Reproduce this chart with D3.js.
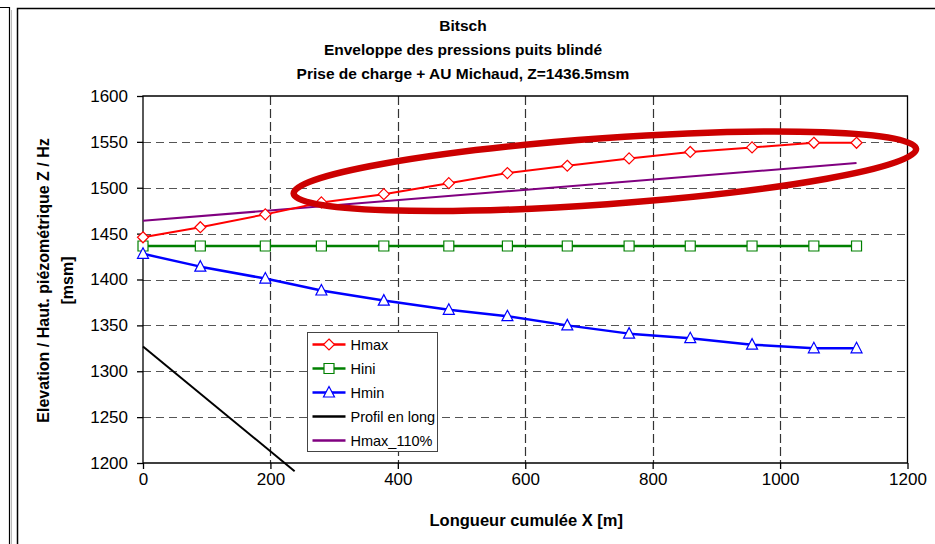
<!DOCTYPE html>
<html>
<head>
<meta charset="utf-8">
<script src="https://cdn.jsdelivr.net/npm/d3@7"></script>
<style>
  body { margin: 0; background: #fff; }
  svg { display: block; font-family: "Liberation Sans", Arial, sans-serif; }
</style>
</head>
<body>
<svg id="chart" width="935" height="544"></svg>
<script>
// Data
const xPos = [0, 90, 192, 280, 378, 480, 572, 666, 763, 859, 956, 1053, 1120];
const hmax = [1446, 1457, 1471, 1484, 1493, 1505, 1516, 1524, 1532, 1539, 1544, 1549, 1549];
const hini = [1436.5, 1436.5, 1436.5, 1436.5, 1436.5, 1436.5, 1436.5, 1436.5, 1436.5, 1436.5, 1436.5, 1436.5, 1436.5];
const hmin = [1428, 1414, 1401, 1388, 1377, 1367, 1360, 1350, 1341, 1336, 1329, 1325, 1325];
const profilX = [0, 238];
const profilY = [1327, 1191];
const h110X = [0, 1120];
const h110Y = [1464, 1527];

const xTicks = [0, 200, 400, 600, 800, 1000, 1200];
const yTicks = [1200, 1250, 1300, 1350, 1400, 1450, 1500, 1550, 1600];
const titleLines = ["Bitsch", "Enveloppe des pressions puits blindé", "Prise de charge + AU Michaud, Z=1436.5msm"];

// highlighted zone (red ellipse), centre in data units
const zoneCentre = [725, 1518];

const width = 935, height = 544;
const margin = { top: 96, right: 27.5, bottom: 81, left: 143 };

const svg = d3.select("#chart");

// outer frames
svg.append("path").attr("d", "M0,7.5H9.5V544").attr("fill", "none").attr("stroke", "#000").attr("stroke-width", 1.2);
svg.append("path").attr("d", "M11.5,10V544").attr("stroke", "#bbb").attr("stroke-width", 1);
svg.append("path").attr("d", "M17.5,544V8.5H935").attr("fill", "none").attr("stroke", "#000").attr("stroke-width", 1.5);

let x = d3.scaleLinear().domain([0, 1200]).range([margin.left, width - margin.right]);
let y = d3.scaleLinear().domain([1200, 1600]).range([height - margin.bottom, margin.top]);

// gridlines
svg.append("g").selectAll("line")
    .data(yTicks.filter(d => d > 1200 && d < 1600))
    .join("line")
    .attr("x1", x(0)).attr("x2", x(1200))
    .attr("y1", d => Math.round(y(d)) + 0.5).attr("y2", d => Math.round(y(d)) + 0.5)
    .attr("stroke", "#555").attr("stroke-width", 1.2).attr("stroke-dasharray", "8,5");

svg.append("g").selectAll("line")
    .data(xTicks.filter(d => d > 0 && d < 1200))
    .join("line")
    .attr("y1", y(1600)).attr("y2", y(1200))
    .attr("x1", d => Math.round(x(d)) + 0.5).attr("x2", d => Math.round(x(d)) + 0.5)
    .attr("stroke", "#333").attr("stroke-width", 1.2).attr("stroke-dasharray", "9,4");

// plot border
svg.append("path")
    .attr("d", `M${x(0)},${y(1200)}V${y(1600)}H${x(1200)}V${y(1200)}Z`)
    .attr("fill", "none").attr("stroke", "#000").attr("stroke-width", 1.3);

// axes
let xAxis = g => g
    .attr("transform", `translate(0, ${y(1200)})`)
    .call(d3.axisBottom(x).tickValues(xTicks).tickSize(6).tickPadding(4).tickFormat(d3.format("d")))
    .call(g => g.select(".domain").remove());
let yAxis = g => g
    .attr("transform", `translate(${x(0)}, 0)`)
    .call(d3.axisLeft(y).tickValues(yTicks).tickSize(6).tickPadding(9).tickFormat(d3.format("d")))
    .call(g => g.select(".domain").remove());

svg.append("g").call(xAxis)
    .call(g => g.selectAll("text").attr("font-size", 17).attr("fill", "#000").attr("font-family", "Liberation Sans, Arial"))
    .call(g => g.selectAll("line").attr("stroke-width", 1.3));
svg.append("g").call(yAxis)
    .call(g => g.selectAll("text").attr("font-size", 17).attr("fill", "#000").attr("font-family", "Liberation Sans, Arial"))
    .call(g => g.selectAll("line").attr("stroke-width", 1.3));

// marker shapes
const markers = {
    diamond: "M0,-5.5L5.5,0L0,5.5L-5.5,0Z",
    square: "M-5,-5H5V5H-5Z",
    triangle: "M0,-6L5.5,4.5H-5.5Z"
};

const series = [
    { name: "Hmax", xs: xPos, ys: hmax, color: "#ff0000", width: 2, marker: "diamond" },
    { name: "Hini", xs: xPos, ys: hini, color: "#008000", width: 2.5, marker: "square" },
    { name: "Hmin", xs: xPos, ys: hmin, color: "#0000ff", width: 2.5, marker: "triangle" },
    { name: "Profil en long", xs: profilX, ys: profilY, color: "#000000", width: 2, marker: null },
    { name: "Hmax_110%", xs: h110X, ys: h110Y, color: "#800080", width: 2, marker: null }
];

let line = d3.line().x(d => x(d[0])).y(d => y(d[1]));

// draw lines (purple first so red sits on top like the reference)
const drawOrder = [4, 3, 1, 2, 0];
drawOrder.forEach(i => {
    let s = series[i];
    let pts = s.xs.map((v, j) => [v, s.ys[j]]);
    svg.append("path")
        .attr("d", line(pts))
        .attr("fill", "none")
        .attr("stroke", s.color)
        .attr("stroke-width", s.width)
        .attr("stroke-linejoin", "round");
    if (s.marker) {
        svg.append("g").selectAll("path")
            .data(pts)
            .join("path")
            .attr("d", markers[s.marker])
            .attr("transform", d => `translate(${x(d[0])},${y(d[1])})`)
            .attr("fill", "#fff")
            .attr("stroke", s.color)
            .attr("stroke-width", 1.2);
    }
});

// red ellipse annotation
svg.append("ellipse")
    .attr("cx", 0).attr("cy", 0)
    .attr("rx", 312).attr("ry", 33)
    .attr("transform", `translate(${x(zoneCentre[0])},${y(zoneCentre[1])}) rotate(-4.1)`)
    .attr("fill", "none")
    .attr("stroke", "#cc0000")
    .attr("stroke-width", 6.5);

// legend
let legendG = svg.append("g").attr("transform", "translate(307.5, 332.5)");
legendG.append("rect")
    .attr("width", 130).attr("height", 119)
    .attr("fill", "#fff").attr("stroke", "#444").attr("stroke-width", 1);
series.forEach((s, i) => {
    let ly = 12 + i * 24;
    legendG.append("line")
        .attr("x1", 5).attr("x2", 38).attr("y1", ly).attr("y2", ly)
        .attr("stroke", s.color).attr("stroke-width", 2.5);
    if (s.marker) {
        legendG.append("path")
            .attr("d", markers[s.marker])
            .attr("transform", `translate(21.5,${ly})`)
            .attr("fill", "#fff").attr("stroke", s.color).attr("stroke-width", 1.2);
    }
    legendG.append("text")
        .attr("x", 43).attr("y", ly + 5)
        .attr("font-size", 14.5)
        .text(s.name);
});

// titles
let titleG = svg.append("g").attr("font-weight", "bold").attr("font-size", 15.5).attr("text-anchor", "middle");
titleLines.forEach((t, i) => {
    titleG.append("text").attr("x", 463).attr("y", 31 + i * 24).text(t);
});

svg.append("text")
    .attr("x", (x(0) + x(1200)) / 2 + 1).attr("y", 526)
    .attr("text-anchor", "middle").attr("font-weight", "bold").attr("font-size", 16.5)
    .text("Longueur cumulée X [m]");

let yTitle = svg.append("g")
    .attr("transform", `translate(0, ${(y(1200) + y(1600)) / 2 + 1}) rotate(-90)`)
    .attr("text-anchor", "middle").attr("font-weight", "bold").attr("font-size", 16);
yTitle.append("text").attr("x", 0).attr("y", 49).text("Elevation / Haut. piézométrique Z / Hz");
yTitle.append("text").attr("x", 0).attr("y", 73).text("[msm]");
</script>
</body>
</html>
